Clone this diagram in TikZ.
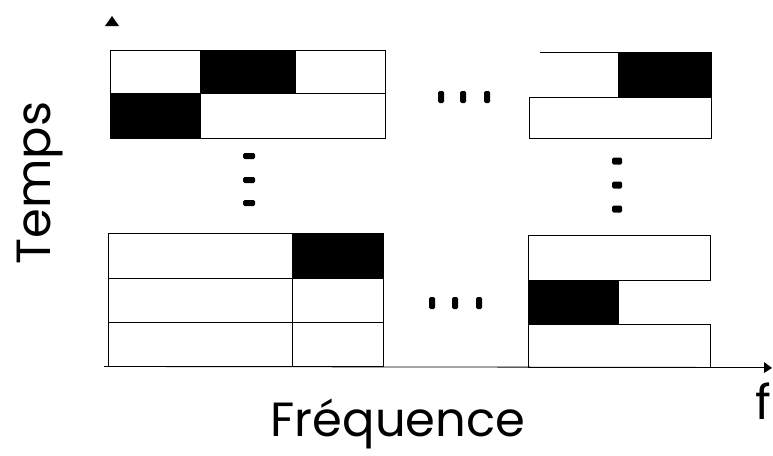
\documentclass[tikz,border=0pt]{standalone}
\usepackage{fontspec}
\setmainfont{Poppins}
\begin{document}
\begin{tikzpicture}[x=1pt,y=-1pt,
  cell/.style={draw=black,line width=0.8pt,fill=white},
  blk/.style={draw=black,line width=0.8pt,fill=black},
  vdot/.style={fill=black,rounded corners=1.5pt},
  lbl/.style={inner sep=0pt,font=\fontsize{48}{54}\selectfont}]
\useasboundingbox (0,0) rectangle (773,455);
% top-left block
\draw[cell] (110,50) rectangle (200,93);
\draw[blk]  (200,50) rectangle (295,93);
\draw[cell] (295,50) rectangle (385,93);
\draw[blk]  (110,93) rectangle (200,138);
\draw[cell] (200,93) rectangle (385,138);
% top-right block
\draw[line width=0.8pt] (540,52) -- (618,52);
\draw[blk]  (618,52) rectangle (711,97);
\draw[cell] (529,97) rectangle (711,138);
% bottom-left block
\draw[cell] (108,233) rectangle (292,278);
\draw[blk]  (292,233) rectangle (383,278);
\draw[cell] (108,278) rectangle (292,322);
\draw[cell] (292,278) rectangle (383,322);
\draw[cell] (108,322) rectangle (292,366);
\draw[cell] (292,322) rectangle (383,366);
% bottom-right block
\draw[cell] (528,235) rectangle (710,280);
\draw[blk]  (528,280) rectangle (618,324);
\draw[line width=0.8pt] (618,280) -- (710,280);
\draw[cell] (528,324) rectangle (710,367);
% vertical ellipsis dots
\foreach \y in {156,180,203} \fill[vdot] (243,\y-3) rectangle (255,\y+3);
\foreach \y in {161,185,209} \fill[vdot] (612,\y-3.5) rectangle (622,\y+3.5);
% horizontal ellipsis dots
\foreach \x in {441,463,487} \fill[vdot] (\x-3,91) rectangle (\x+3,103);
\foreach \x in {432,455,479} \fill[vdot] (\x-3,297) rectangle (\x+3,309);
% axes
\coordinate (xa0) at (104,366.5);
\coordinate (xa1) at (766,367.5);
\draw[line width=0.8pt] (xa0) -- (xa1);
\fill (764,362) -- (772,368) -- (764,373) -- cycle;
\fill (105,26) -- (112,16) -- (119,26) -- cycle;
% labels
\node[lbl,anchor=base] (freq) at (398,436) {Fréquence};
\node[lbl,anchor=base,rotate=90] (temps) at (50,183) {Temps};
\node[lbl,anchor=base] (f) at (763,419) {f};
\end{tikzpicture}
\end{document}
